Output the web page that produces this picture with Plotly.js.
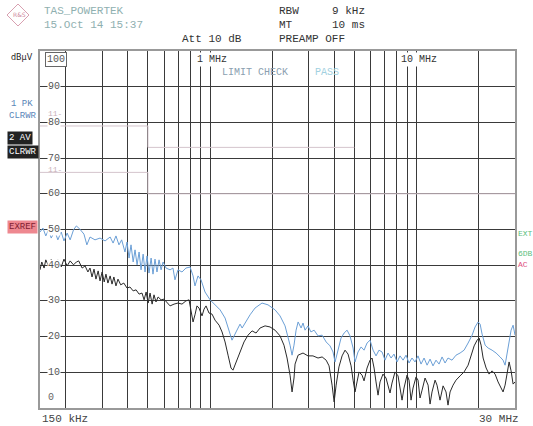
<!DOCTYPE html>
<html><head><meta charset="utf-8">
<script src="https://cdn.plot.ly/plotly-3.0.1.min.js"></script>
<style>html,body{margin:0;padding:0;background:#fff}#c{width:533px;height:426px}</style>
</head><body><div id="c"></div>
<script>
// Frequencies in MHz, levels in dBµV
const pkFreq = [0.150,0.155,0.160,0.165,0.170,0.177,0.183,0.190,0.196,0.203,0.210,0.218,0.225,0.234,0.245,0.253,0.262,0.277,0.293,0.310,0.328,0.339,0.350,0.362,0.373,0.387,0.396,0.405,0.414,0.424,0.433,0.443,0.453,0.463,0.474,0.484,0.495,0.506,0.518,0.529,0.541,0.553,0.566,0.579,0.592,0.612,0.640,0.661,0.676,0.699,0.731,0.764,0.800,0.827,0.845,0.874,0.904,0.945,1.000,1.057,1.118,1.182,1.235,1.277,1.336,1.397,1.43,1.562,1.651,1.785,1.908,2.064,2.182,2.308,2.440,2.495,2.55,2.61,2.67,2.76,2.82,2.884,2.98,3.08,3.19,3.334,3.49,3.65,3.812,3.94,4.031,4.17,4.31,4.46,4.608,4.764,4.93,5.037,5.208,5.39,5.57,5.76,5.955,6.16,6.367,6.58,6.808,7.039,7.28,7.53,7.78,8.05,8.322,8.61,8.90,9.20,9.51,9.838,10.17,10.52,10.88,11.25,11.63,12.02,12.43,12.86,13.30,13.75,14.21,14.86,15.54,16.26,17.0,17.78,18.59,19.22,19.88,20.33,20.78,21.50,22.23,23.23,24.29,25.40,26.26,26.86,27.47,28.09,28.72,29.37,30.0];
const pkLevel = [49.3,50.4,48.2,49.9,47.6,49.6,47.1,49.3,46.8,49.0,47.1,49.9,51.0,50.1,48.7,45.7,47.9,47.1,47.6,46.8,47.9,46.2,48.2,45.7,47.1,43.7,46.5,42.0,45.7,40.9,44.3,40.1,43.7,38.7,43.1,38.1,42.6,37.8,42.0,37.5,41.7,38.1,41.5,38.7,40.9,39.2,38.7,39.2,35.9,38.7,38.1,39.2,39.5,37.0,34.2,37.0,35.9,32.5,30.3,28.9,27.5,25.2,21.3,19.0,21.3,23.5,22.4,26.1,28.0,29.4,28.9,27.5,25.8,23.0,17.6,14.8,17.6,21.8,24.1,22.4,23.8,21.8,23.0,21.3,21.8,20.2,20.4,18.5,17.4,15.7,12.9,16.2,19.6,21.0,21.8,20.2,16.8,12.9,15.7,17.1,16.2,18.2,19.0,16.2,14.6,16.2,15.7,13.4,15.4,14.0,15.1,12.9,14.6,13.4,14.8,12.6,14.0,12.9,14.6,12.3,14.0,12.0,13.7,11.8,13.4,12.3,14.3,12.6,14.0,13.4,14.8,15.4,16.2,18.2,20.4,22.7,24.1,23.5,20.7,17.6,16.8,16.2,15.4,14.3,13.4,12.0,15.7,19.0,21.8,23.2,20.4];

const avFreq = [0.150,0.153,0.157,0.160,0.165,0.170,0.177,0.183,0.190,0.196,0.203,0.210,0.218,0.225,0.231,0.240,0.248,0.256,0.262,0.268,0.274,0.280,0.287,0.293,0.300,0.307,0.313,0.320,0.328,0.335,0.342,0.350,0.358,0.369,0.382,0.396,0.409,0.424,0.438,0.453,0.468,0.479,0.490,0.501,0.512,0.524,0.535,0.547,0.560,0.579,0.598,0.619,0.640,0.669,0.699,0.731,0.764,0.791,0.809,0.827,0.845,0.864,0.884,0.914,0.935,0.956,0.988,1.022,1.057,1.106,1.143,1.182,1.222,1.263,1.291,1.336,1.397,1.46,1.527,1.597,1.67,1.746,1.846,1.952,2.064,2.182,2.28,2.36,2.440,2.495,2.55,2.580,2.67,2.82,2.98,3.15,3.334,3.49,3.65,3.77,3.90,3.99,4.08,4.21,4.36,4.506,4.66,4.82,4.93,5.037,5.15,5.27,5.447,5.57,5.76,5.955,6.09,6.23,6.367,6.511,6.658,6.88,7.118,7.28,7.443,7.61,7.869,8.137,8.322,8.51,8.70,8.998,9.20,9.409,9.62,9.948,10.17,10.40,10.64,11.00,11.38,11.63,11.89,12.30,12.57,13.00,13.45,13.90,14.21,14.54,15.03,15.54,16.26,17.0,17.78,18.39,19.02,19.66,20.10,20.55,21.02,21.74,22.47,23.23,24.02,24.84,25.69,26.26,26.86,27.47,28.09,28.72,29.37,30.0];
const avLevel = [38.7,40.9,39.2,41.5,39.8,41.7,39.8,41.5,39.5,41.7,39.8,41.2,40.1,40.9,41.2,39.2,39.8,38.1,39.2,36.7,38.9,36.1,38.4,35.6,38.1,35.3,37.5,35.0,37.0,34.7,36.7,34.2,36.1,34.5,35.0,33.6,33.9,32.8,33.1,31.9,32.2,30.3,32.5,29.4,32.2,29.1,31.7,29.7,31.1,30.3,30.5,29.4,28.6,29.1,29.4,29.1,30.0,30.3,26.9,24.1,26.1,28.6,28.0,25.8,27.7,28.6,26.6,26.3,24.6,23.2,21.3,18.5,14.8,11.2,10.6,12.9,15.7,18.5,20.4,21.6,21.0,22.4,23.0,22.7,21.8,20.2,17.6,14.0,9.2,4.5,8.4,12.3,14.8,15.4,14.6,14.6,14.0,14.3,13.4,11.8,6.4,1.7,6.4,11.5,14.6,16.2,15.1,11.8,7.8,4.5,7.3,10.1,9.2,7.6,11.2,13.4,14.0,11.2,7.3,3.6,7.3,9.5,8.4,6.2,4.2,7.0,10.1,9.0,5.6,2.2,5.6,9.2,7.8,2.2,5.6,8.7,7.8,2.8,5.0,8.4,6.4,1.1,4.5,7.8,6.4,2.2,6.2,4.5,0.8,4.5,6.4,7.8,9.0,10.1,12.0,14.8,17.4,19.0,19.6,17.6,14.0,11.2,9.5,10.4,9.5,7.3,5.6,4.5,6.4,9.2,12.9,10.4,6.7,7.3];

const limQpFreq = [0.15,0.5,0.5,5.0];
const limQpLevel = [79,79,73,73];
const limAvFreq = [0.15,0.5,0.5,30];
const limAvLevel = [66,66,60,60];

const gridFreqs = [0.2,0.3,0.4,0.5,0.6,0.7,0.8,0.9,1,2,3,4,5,6,7,8,9,10,20];
const yTickVals = [90,80,70,60,50,40,30,20,10];

const traces = [
  {x:limQpFreq,y:limQpLevel,mode:'lines',line:{color:'#d4c4cc',width:1},hoverinfo:'skip'},
  {x:limAvFreq,y:limAvLevel,mode:'lines',line:{color:'#d4c4cc',width:1},hoverinfo:'skip'},
  {x:pkFreq,y:pkLevel,mode:'lines',line:{color:'#6b9fd6',width:1},hoverinfo:'skip'},
  {x:avFreq,y:avLevel,mode:'lines',line:{color:'#2a2a2a',width:1},hoverinfo:'skip'}
];

const L=40,R=515,T=51,B=408;
const px = v => (v-L)/(R-L);
const py = v => (B-v)/(B-T);
const mono = 'Liberation Mono, DejaVu Sans Mono, monospace';
function txt(t,x,y,o){return Object.assign({text:t,xref:'paper',yref:'paper',x:px(x),y:py(y),xanchor:'left',yanchor:'middle',showarrow:false,font:{family:mono,size:11,color:'#333'}},o||{});}

const ann = [
  txt('TAS_POWERTEK',42,11,{font:{family:mono,size:11,color:'#8fb0b0'}}),
  txt('15.Oct 14 15:37',42,25,{font:{family:mono,size:11,color:'#8fb0b0'}}),
  txt('RBW',277,11),txt('9 kHz',330,11),
  txt('MT',277,25),txt('10 ms',330,25),
  txt('Att 10 dB',180,39),txt('PREAMP OFF',277,39),
  txt('dBµV',9,57,{font:{family:'DejaVu Sans',size:8,color:'#222'}}),
  txt('1 PK',9,104,{font:{family:mono,size:9,color:'#5a86b8'}}),
  txt('CLRWR',7,116,{font:{family:mono,size:9,color:'#5a86b8'}}),
  txt('2 AV',7,138,{font:{family:mono,size:9,color:'#fff'},bgcolor:'#222',borderpad:1}),
  txt('CLRWR',7,152,{font:{family:mono,size:9,color:'#fff'},bgcolor:'#222',borderpad:1}),
  txt('EXREF',7,227,{font:{family:mono,size:9,color:'#802030'},bgcolor:'#ee8890',borderpad:1}),
  txt('EXT',516,234,{font:{family:mono,size:8,color:'#60c080'}}),
  txt('6DB',516,253,{font:{family:mono,size:8,color:'#60c080'}}),
  txt('AC',516,264,{font:{family:mono,size:8,color:'#e05080'}}),
  txt('1 MHz',195,59,{bgcolor:'#fff',font:{family:mono,size:10,color:'#333'}}),
  txt('10 MHz',399,59,{bgcolor:'#fff',font:{family:mono,size:10,color:'#333'}}),
  txt('LIMIT CHECK',220,72,{font:{family:mono,size:10,color:'#8aa0b0'}}),
  txt('PASS',313,72,{font:{family:mono,size:10,color:'#a0d0e0'}}),
  txt('150 kHz',40,419,{font:{family:mono,size:11,color:'#444'}}),
  txt('30 MHz',477,419,{font:{family:mono,size:11,color:'#444'}}),
  txt('100',45,59,{font:{family:mono,size:10,color:'#555'},bgcolor:'#fff',bordercolor:'#666',borderwidth:1,borderpad:1}),
  txt('0',46,397,{font:{family:mono,size:10,color:'#666'}}),
  txt('11-',46,113,{font:{family:mono,size:8,color:'#c8b0b8'}}),
  txt('11-',46,169,{font:{family:mono,size:8,color:'#c8b0b8'}}),
  txt('R&S',11,15,{font:{family:'DejaVu Sans',size:6,color:'#d08aa0'}})
];
yTickVals.forEach(v=>{
  ann.push({text:String(v),xref:'paper',yref:'y',x:px(47),y:v,xanchor:'left',yanchor:'middle',showarrow:false,bgcolor:'#fff',borderpad:0,font:{family:mono,size:10,color:'#555'}});
});

const shapes = [
  {type:'path',xref:'paper',yref:'paper',path:`M ${px(18)} ${py(4)} L ${px(29)} ${py(15)} L ${px(18)} ${py(26)} L ${px(7)} ${py(15)} Z`,line:{color:'#d8a0b0',width:1}}
];

const layout = {
  width:533,height:426,
  margin:{l:L,r:533-R,t:T,b:426-B,pad:0},
  paper_bgcolor:'#fff',plot_bgcolor:'#fff',
  showlegend:false,
  xaxis:{type:'log',range:[Math.log10(0.15),Math.log10(30)],tickvals:gridFreqs,showticklabels:false,ticks:'',
    showgrid:true,gridcolor:'#3a3a3a',gridwidth:1,zeroline:false,showline:true,mirror:true,linecolor:'#999',linewidth:2},
  yaxis:{range:[0,100],tickvals:yTickVals,showticklabels:false,ticks:'',
    showgrid:true,gridcolor:'#3a3a3a',gridwidth:1,zeroline:false,showline:true,mirror:true,linecolor:'#999',linewidth:2},
  annotations:ann,shapes:shapes
};
Plotly.newPlot('c',traces,layout,{staticPlot:true,displayModeBar:false});
</script></body></html>
